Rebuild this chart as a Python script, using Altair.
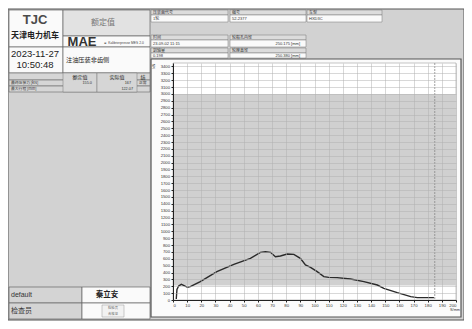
import altair as alt
import pandas as pd

# ---- curve data (position mm, force kN) ----
pos = [2.3, 2.8, 4.0, 5.9, 7.5, 10.3, 12.2, 19.3, 31.0, 43.0, 54.7, 61.8, 65.3, 68.9,
       72.4, 75.9, 80.7, 85.4, 90.0, 93.6, 97.2, 101.9, 106.6, 110.1, 116.0, 125.5,
       134.9, 144.4, 149.0, 158.5, 168.0, 172.7, 184.4]
force = [15, 155, 204, 228, 214, 185, 194, 267, 412, 519, 606, 694, 703, 694,
         630, 640, 670, 665, 606, 510, 475, 412, 340, 330, 325, 306,
         267, 218, 170, 107, 49, 34, 34]
band_low = [210]
band_high = [3000]
end_pos = [185]
x_ticks = [0, 10, 20, 30, 40, 50, 60, 70, 80, 90, 100, 110, 120, 130, 140, 150, 160, 170, 180, 190, 200]
y_ticks = list(range(0, 3401, 100))

curve = pd.DataFrame({"pos": pos, "force": force})
band = pd.DataFrame({"x0": [0], "x1": [200], "y0": band_low, "y1": band_high})
endline = pd.DataFrame({"pos": end_pos})

W, H = 283, 237
OX, OY = 173, 63  # page position of plot origin (for decoration)

CJK = "Noto Sans CJK SC"
LAT = "Liberation Sans"

xsc = alt.Scale(domain=[0, 200], nice=False, zero=True)
ysc = alt.Scale(domain=[0, 3450], nice=False, zero=True)
xax = alt.Axis(values=x_ticks, title=None, format="d", labelFontSize=4.3, labelPadding=1.5, tickSize=2,
               gridColor="#b0b0b0", gridWidth=0.5, domainColor="#222", tickColor="#222",
               labelColor="#333", labelOverlap=False, zindex=1, labelFont=LAT)
yax = alt.Axis(values=y_ticks, title=None, format="d", labelFontSize=4.2, labelPadding=1.5, tickSize=2,
               gridColor="#b0b0b0", gridWidth=0.5, domainColor="#222", tickColor="#222",
               labelColor="#333", labelOverlap=False, zindex=1, labelFont=LAT)

one = alt.Data(values=[{"k": 0}])


def box(x1, y1, x2, y2, fill, stroke="#666", sw=0.7):
    return alt.Chart(one).mark_rect(fill=fill, stroke=stroke, strokeWidth=sw).encode(
        x=alt.value(x1 - OX), x2=alt.value(x2 - OX), y=alt.value(y1 - OY), y2=alt.value(y2 - OY))


def txt(s, x, y, size, align="left", color="#333", font=CJK, weight="normal", style="normal", angle=0):
    return alt.Chart(one).mark_text(text=s, fontSize=size, align=align, baseline="middle",
                                    color=color, font=font, fontWeight=weight, fontStyle=style,
                                    angle=angle).encode(x=alt.value(x - OX), y=alt.value(y - OY))


decor = [
    box(8, 9, 464, 320, "#d2d2d2", "#555", 1),
    box(9, 10, 63, 47, "#fafafa"),
    box(63, 10, 150, 36, "#e2e2e2"),
    box(63, 36, 150, 47, "#fafafa"),
    box(9, 47, 63, 73, "#fafafa"),
    box(63, 47, 150, 73, "#fafafa"),
    box(9, 73, 150, 80, "#d6d6d6", "#777"),
    box(9, 80, 150, 86, "#d6d6d6", "#777"),
    box(9, 86, 150, 92, "#d6d6d6", "#777"),
    box(63, 73, 97, 92, "#d6d6d6", "#777", 0.5),
    box(97, 73, 137, 92, "#d6d6d6", "#777", 0.5),
    box(9, 287, 82, 303, "#d4d4d4"),
    box(82, 287, 150, 303, "#fafafa"),
    box(9, 303, 82, 319, "#d4d4d4"),
    box(82, 303, 150, 319, "#fafafa"),
    box(102, 305, 124, 317, "#f2f2f2", "#999", 0.5),
    # header fields
    box(151, 10, 228, 15, "#dcdcdc", "#777", 0.5),
    box(151, 15, 228, 22, "#fafafa", "#777", 0.5),
    box(230, 10, 306, 15, "#dcdcdc", "#777", 0.5),
    box(230, 15, 306, 22, "#fafafa", "#777", 0.5),
    box(307, 10, 382, 15, "#dcdcdc", "#777", 0.5),
    box(307, 15, 382, 22, "#fafafa", "#777", 0.5),
    box(151, 35, 228, 40, "#dcdcdc", "#777", 0.5),
    box(151, 40, 228, 47, "#fafafa", "#777", 0.5),
    box(230, 35, 306, 40, "#dcdcdc", "#777", 0.5),
    box(230, 40, 306, 47, "#fafafa", "#777", 0.5),
    box(151, 48, 228, 53, "#dcdcdc", "#777", 0.5),
    box(151, 53, 228, 58, "#fafafa", "#777", 0.5),
    box(230, 48, 306, 53, "#dcdcdc", "#777", 0.5),
    box(230, 53, 306, 58, "#fafafa", "#777", 0.5),
    # chart panel
    box(151, 59, 461, 317, "#fbfbfb", "#555", 1.2),
    box(173, 63, 456, 300, "#ffffff", "#888", 0.5),
]

texts = [
    txt("TJC", 35, 20, 13, "center", "#4a4a4a", LAT, "bold"),
    txt("天津电力机车", 35, 36, 8, "center", "#222", CJK, "bold"),
    txt("额定值", 103, 23, 8, "center", "#777"),
    txt("MAE", 82, 42, 13, "center", "#333", LAT, "bold"),
    txt("⊕ Kalibrierpresse MES 2.0", 124, 43, 3.3, "center", "#444", LAT),
    txt("2023-11-27", 35, 54, 9.5, "center", "#222", LAT),
    txt("10:50:48", 35, 65, 9.5, "center", "#222", LAT),
    txt("注油压装非齿侧", 66, 60, 6.2, "left", "#222"),
    txt("额定值", 80, 76.5, 5, "center", "#222"),
    txt("实际值", 117, 76.5, 5, "center", "#222"),
    txt("结", 143, 76.5, 5, "center", "#222"),
    txt("最终压装力 [kN]", 11, 83, 3.8, "left", "#333"),
    txt("155.0", 92, 83, 3.8, "right", "#333", LAT),
    txt("167", 131, 83, 3.8, "right", "#333", LAT),
    txt("正常", 139, 83, 3.8, "left", "#333"),
    txt("最大行程 [mm]", 11, 89, 3.8, "left", "#333"),
    txt("122.07", 133, 89, 3.8, "right", "#333", LAT),
    txt("default", 11, 295, 7, "left", "#333", LAT),
    txt("秦立安", 107, 295, 7.5, "center", "#222", CJK, "bold"),
    txt("检查员", 11, 311, 7, "left", "#333"),
    txt("检验员", 113, 308, 3.3, "center", "#666"),
    txt("合格证", 113, 314, 3.3, "center", "#666"),
    txt("压装面代号", 153, 12.5, 4, "left", "#333"),
    txt("编号", 232, 12.5, 4, "left", "#333"),
    txt("车型", 309, 12.5, 4, "left", "#333"),
    txt("1轮", 153, 18.5, 4, "left", "#333"),
    txt("52-2377", 232, 18.5, 4, "left", "#333", LAT),
    txt("HXD3C", 309, 18.5, 4, "left", "#333", LAT),
    txt("时间", 153, 37.5, 4, "left", "#333"),
    txt("轮毂孔内径", 232, 37.5, 4, "left", "#333"),
    txt("23-09-02 11:15", 153, 43.5, 4, "left", "#333", LAT),
    txt("250.175 [mm]", 300, 43.5, 4, "right", "#333", LAT),
    txt("到轴量", 153, 50.5, 4, "left", "#333"),
    txt("轮座直径", 232, 50.5, 4, "left", "#333"),
    txt("0.198", 153, 55.5, 4, "left", "#333", LAT),
    txt("250.380 [mm]", 300, 55.5, 4, "right", "#333", LAT),
    txt("kN", 154, 66, 4, "center", "#333", LAT, angle=270),
    txt("S/mm", 455, 309.5, 3.8, "center", "#333", LAT),
]

band_layer = alt.Chart(band).mark_rect(fill="#d0d0d0").encode(
    x=alt.X("x0:Q", scale=xsc, axis=xax), x2="x1:Q",
    y=alt.Y("y0:Q", scale=ysc, axis=yax), y2="y1:Q")

end_layer = alt.Chart(endline).mark_rule(color="#888", strokeWidth=0.8, strokeDash=[2, 1]).encode(
    x=alt.X("pos:Q", scale=xsc, axis=xax))

line_layer = alt.Chart(curve).mark_line(color="#2a2a2a", strokeWidth=1.4).encode(
    x=alt.X("pos:Q", scale=xsc, axis=xax),
    y=alt.Y("force:Q", scale=ysc, axis=yax), order="pos:Q")

chart = alt.layer(*decor, band_layer, end_layer, line_layer, *texts).properties(
    width=W, height=H,
    autosize=alt.AutoSizeParams(type="none"),
    padding={"left": 165, "top": 55, "right": 8, "bottom": 21},
    background="#ffffff",
).configure_view(stroke=None)

chart.save("out.html", embed_options={"renderer": "svg", "actions": False})
